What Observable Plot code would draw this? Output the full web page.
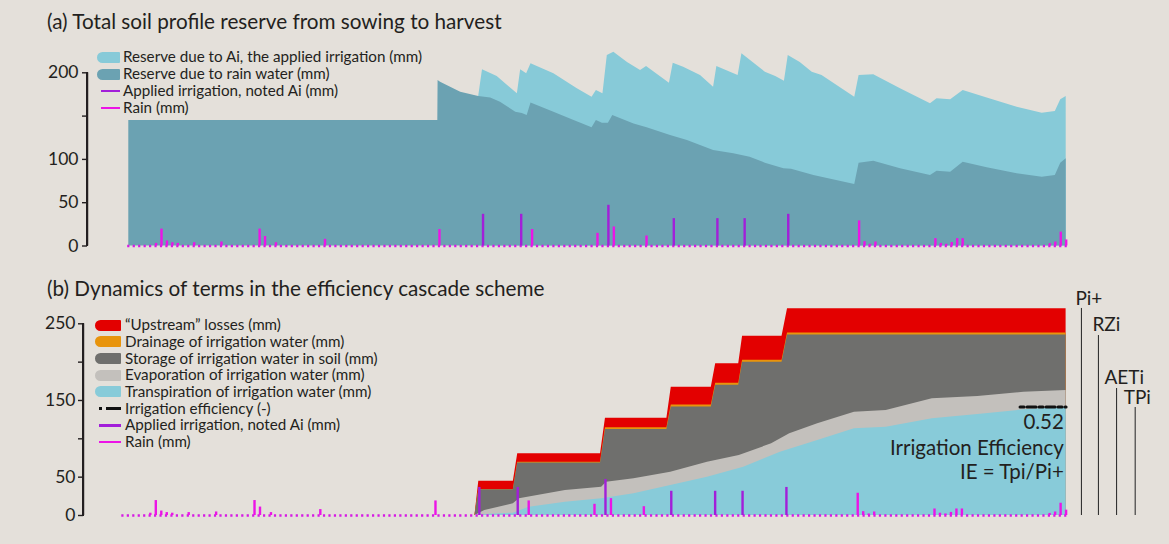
<!DOCTYPE html>
<html><head><meta charset="utf-8">
<script src="https://cdn.jsdelivr.net/npm/d3@7"></script>
<script src="https://cdn.jsdelivr.net/npm/@observablehq/plot@0.6"></script>
<style>
html,body{margin:0;padding:0;background:#e4e0da;}
#wrap{position:relative;width:1169px;height:544px;background:#e4e0da;font-family:Lato,"Open Sans",sans-serif;color:#231f20;overflow:hidden}
#wrap svg{position:absolute;left:0;overflow:visible}
.title{position:absolute;left:47px;font-size:20.7px;line-height:22px;white-space:nowrap}
.leg{position:absolute;font-size:15.2px;line-height:17px;white-space:nowrap}
.sw{position:absolute}
.ax{position:absolute;width:1.5px;background:#231f20}
</style></head>
<body><div id="wrap"></div>
<script>
// ---------- data (day after sowing, mm) ----------
const rainDays = [5,6,7,8,9,12,17,24,25,27,36,57,74,86,89,95,134,135,136,137,148,149,150,151,152,153,169,170,171,172];
const rainMm   = [3,19.5,5.8,3.8,3,3.8,4.6,19.5,11,3.8,7.7,19,19,14.6,22,11.5,29,5,2,4.6,8.5,3,2,4,8.5,8.5,2.7,4.6,16,7];
const irrDays  = [65,72,88,100,108,113,121];
const irrMm    = [36.6,36.6,47,31.6,31.6,31.6,36.6];

// panel (a): reserve due to rain water (dark) and total reserve incl. irrigation (light)
const reserveRain = [[0,145],[56.7,145],[56.75,191],[57.2,189],[60.9,177.6],[64.2,172.6],[66.4,171],[68.2,166],[71,154.5],[72.2,153],[73.1,150.7],[73.8,165],[78,154.5],[81.7,145],[85,136.5],[85.8,145],[86.9,141.8],[88,141.8],[88.8,150.7],[92.7,141],[95.1,136.5],[99.4,127.6],[102.5,121.8],[107.3,110.3],[111,106.5],[114,102.5],[116.8,95.6],[120.2,89.1],[121.6,88.5],[125.7,81.4],[133.2,71],[134,95.6],[136.7,97.9],[141.6,89.1],[147.1,81.4],[148.3,86.4],[150.8,85.2],[153.1,96.8],[157.5,90.3],[163,83.4],[167.6,79.4],[170,81.4],[171,95.6],[172,100.7]];
const reserveTotal = [[64.2,172.6],[64.9,203.5],[67.6,195.7],[71.3,175.7],[71.9,203.5],[73,198.8],[73.8,210.4],[78,198.8],[82.3,181.5],[85,171.8],[85.8,179.6],[87,175.7],[87.8,220],[89,223.8],[91.5,212],[93.9,202.6],[95,207.3],[99.2,188],[99.9,211],[101.8,206.5],[104.9,196.9],[107.3,183.4],[107.9,207.3],[111.8,196.9],[112.5,222],[116.8,200.7],[118.7,195.7],[120.3,190.3],[121,220],[123.2,212],[125.4,200.7],[127.2,196.9],[133.2,171.8],[134,196.9],[136.7,197.7],[137.3,195.7],[141.6,181.5],[147.1,164.2],[148.3,170],[150.8,168.8],[153.1,179.6],[157.5,171],[163,160.3],[167.6,153.3],[170,155.3],[171,168.8],[172,172.6]];

// panel (b): cumulative levels of the efficiency cascade
const piPlus     = [[64.2,0],[64.9,44.7],[71.2,44.7],[72,80.4],[87.1,80.4],[88,126.9],[99.2,126.9],[100,167.3],[107.3,167.3],[108.1,197.8],[112.3,197.8],[113,233.8],[120.2,233.8],[121.2,269.5],[172,269.5]];
const rzTop      = [[64.2,0],[64.9,34],[71.2,34],[72,69.3],[87.1,69.3],[88,114.5],[99.2,114.5],[100,144],[107.3,144],[108.1,172.5],[112.3,172.5],[113,202.5],[120.2,202.5],[121.2,238],[172,238]];
const storageTop = [[64.2,0],[64.9,33.5],[71.2,33.5],[72,68.5],[87.1,68.5],[88,112],[99.2,112],[100,141.5],[107.3,141.5],[108.1,170],[112.3,170],[113,200],[120.2,200],[121.2,235.5],[172,235.5]];
const aetTop     = [[64.2,0],[66,6.5],[71.2,15.3],[72.3,21.8],[80.7,32.6],[87.3,36.9],[88.2,43.4],[93.2,47.8],[99.9,56.5],[106.6,69.5],[112.4,78.2],[118.3,93.5],[121.6,106.5],[126.7,119.6],[133.4,134.7],[139.2,136.9],[147.6,152.2],[155.9,155.1],[164.3,160.8],[172,163]];
const tpTop      = [[64.2,0],[67,1.5],[71.2,3],[74.1,10.8],[80.7,17.3],[87.3,21.8],[93.2,28.3],[99.9,39.1],[106.6,49.9],[113.2,63],[119.9,82.5],[126.7,97.8],[133.4,113],[139.2,115.1],[147.6,126.1],[155.9,131.7],[164.3,137.8],[172,141.2]];
const ieLevel    = [[163.6,141.5],[172,141.5]];
const ieText     = ["0.52","Irrigation Efficiency","IE = Tpi/Pi+"];
const ieTextMm   = [121,87.4,56];
const endLabels  = ["Pi+","RZi","AETi","TPi"];
const endLineDay = [174.8,177.9,181.2,184.6];
const endLineTop = [270,234.7,165.6,140.8];
const endTextDay = [173.7,176.8,179,182.5];
const endTextMm  = [283,248,179,153];

const ticksA = [0,50,100,150,200];
const ticksB = [0,50,100,150,200,250];

const titleA = "(a) Total soil profile reserve from sowing to harvest";
const titleB = "(b) Dynamics of terms in the efficiency cascade scheme";
const legendA = ["Reserve due to Ai, the applied irrigation (mm)","Reserve due to rain water (mm)","Applied irrigation, noted Ai (mm)","Rain (mm)"];
const legendB = ["\u201cUpstream\u201d losses (mm)","Drainage of irrigation water (mm)","Storage of irrigation water in soil (mm)","Evaporation of irrigation water (mm)","Transpiration of irrigation water (mm)","Irrigation efficiency (-)","Applied irrigation, noted Ai (mm)","Rain (mm)"];

// ---------- styles ----------
const C = {
  light:"#87cad8", dark:"#6ba2b2", rain:"#ec14e6", irr:"#a21fd9", dots:"#d61ae4",
  red:"#e30000", orange:"#e8940c", storage:"#6f6f6d", evap:"#c3c0bc", transp:"#88cbd9", ink:"#231f20"
};
const rain = rainDays.map((d,i)=>({d, v:rainMm[i]}));
const irr  = irrDays.map((d,i)=>({d, v:irrMm[i]}));
const X = p=>p[0], Y = p=>p[1];

const wrap = document.getElementById("wrap");

function bars(){
  return [
    Plot.ruleY([0], {x1:-0.2, x2:172.2, stroke:C.dots, strokeWidth:2.4, strokeDasharray:"2.2,3.25"}),
    Plot.ruleX(rain, {x:"d", y1:0, y2:"v", stroke:C.rain, strokeWidth:2.4}),
    Plot.ruleX(irr,  {x:"d", y1:0, y2:"v", stroke:C.irr,  strokeWidth:2.4})
  ];
}

// ---------- panel (a) ----------
const plotA = Plot.plot({
  width:1169, height:265, marginLeft:87, marginTop:0, marginRight:0, marginBottom:0,
  x:{domain:[0,172], range:[128.3,1065.7], axis:null},
  y:{domain:[0,200], range:[245.5,72.3], label:null},
  style:{background:"transparent", fontFamily:"Lato, sans-serif", fontSize:"17px", color:C.ink},
  marks:[
    Plot.areaY(reserveTotal, {x:X, y:Y, fill:C.light}),
    Plot.areaY(reserveRain,  {x:X, y:Y, fill:C.dark}),
    ...bars(),
    Plot.ruleX([-7.58], {y1:0, y2:200, stroke:C.ink, strokeWidth:1.5}),
    Plot.axisY({ticks:ticksA, tickFormat:d=>d===150?"":d, tickSize:5, tickPadding:4, fontSize:17.5, label:null, strokeWidth:1.4})
  ]
});
plotA.style.top = "0px";
wrap.appendChild(plotA);

// ---------- panel (b) ----------
const endL = endLabels.map((t,i)=>({t, xl:endLineDay[i], top:endLineTop[i], xt:endTextDay[i], yt:endTextMm[i]}));
const ieT = ieText.map((t,i)=>({t, y:ieTextMm[i]}));
const plotB = Plot.plot({
  width:1169, height:279, marginLeft:83, marginTop:0, marginRight:0, marginBottom:0,
  x:{domain:[0,172], range:[122.4,1065.6], axis:null},
  y:{domain:[0,250], range:[250,58.3], label:null},
  style:{background:"transparent", fontFamily:"Lato, sans-serif", fontSize:"17px", color:C.ink},
  marks:[
    Plot.areaY(piPlus,     {x:X, y:Y, fill:C.red}),
    Plot.areaY(rzTop,      {x:X, y:Y, fill:C.orange}),
    Plot.areaY(storageTop, {x:X, y:Y, fill:C.storage}),
    Plot.areaY(aetTop,     {x:X, y:Y, fill:C.evap}),
    Plot.areaY(tpTop,      {x:X, y:Y, fill:C.transp}),
    Plot.line(ieLevel, {x:X, y:Y, stroke:"#111", strokeWidth:3, strokeDasharray:"4,3,9,3"}),
    Plot.text(ieT, {x:171.6, y:"y", text:"t", textAnchor:"end", fontSize:20.5, fill:C.ink}),
    ...bars(),
    Plot.ruleX(endL, {x:"xl", y1:0, y2:"top", stroke:"#333", strokeWidth:1.1}),
    Plot.text(endL, {x:"xt", y:"yt", text:"t", textAnchor:"start", fontSize:19, fill:C.ink}),
    Plot.ruleX([-7.19], {y1:0, y2:250, stroke:C.ink, strokeWidth:1.5}),
    Plot.axisY({ticks:ticksB, tickFormat:d=>(d===100||d===200)?"":d, tickSize:5, tickPadding:3, fontSize:17.5, label:null, strokeWidth:1.4})
  ]
});
plotB.style.top = "265px";
wrap.appendChild(plotB);

// ---------- axis spines (placed from the plots' own y scales) ----------
function spine(plot, topOffset, left, dom){
  const sy = plot.scale("y");
  const y0 = sy.apply(dom[1]), y1 = sy.apply(dom[0]);
  if (!isFinite(y0) || !isFinite(y1)) return;
  const el = document.createElement("div"); el.className = "ax";
  el.style.left = (left - 0.75) + "px"; el.style.top = (topOffset + y0 - 0.7) + "px"; el.style.height = (y1 - y0 + 1.4) + "px";
  wrap.appendChild(el);
}
spine(plotA, 0, 87, [0,200]);
spine(plotB, 265, 83, [0,250]);

// ---------- titles & legends ----------
function addText(cls, txt, left, top){
  const el = document.createElement("div"); el.className = cls; el.textContent = txt;
  el.style.left = left+"px"; el.style.top = top+"px"; wrap.appendChild(el);
}
addText("title", titleA, 47, 10);
addText("title", titleB, 47, 277);

function swatch(kind, color, x0, x1, yc){
  const s = document.createElement("div"); s.className="sw";
  if(kind==="area"){
    s.style.cssText += `left:${x0}px;top:${yc-5.5}px;width:${x1-x0}px;height:11px;background:${color};border-radius:5.5px 1px 1px 5.5px;`;
    wrap.appendChild(s);
  } else if(kind==="line"){
    s.style.cssText += `left:${x0+4}px;top:${yc-1.3}px;width:${x1-x0-4}px;height:2.6px;background:${color};`;
    wrap.appendChild(s);
  } else {
    const a = document.createElement("div"); a.className="sw";
    a.style.cssText = `left:${x0+4}px;top:${yc-1.3}px;width:3px;height:2.6px;background:${color};`;
    s.style.cssText += `left:${x0+11}px;top:${yc-1.3}px;width:${x1-x0-11}px;height:2.6px;background:${color};`;
    wrap.appendChild(a); wrap.appendChild(s);
  }
}
const kindsA = ["area","area","line","line"], colsA = [C.light,C.dark,C.irr,C.rain];
legendA.forEach((t,i)=>{ const yc = 57 + i*17; swatch(kindsA[i], colsA[i], 97, 120, yc); addText("leg", t, 123, yc-9); });
const kindsB = ["area","area","area","area","area","dash","line","line"];
const colsB = [C.red,C.orange,C.storage,C.evap,C.transp,"#111",C.irr,C.rain];
legendB.forEach((t,i)=>{ const yc = 325.3 + i*16.67; swatch(kindsB[i], colsB[i], 95, 121, yc); addText("leg", t, 125, yc-9); });
</script>
</body></html>
